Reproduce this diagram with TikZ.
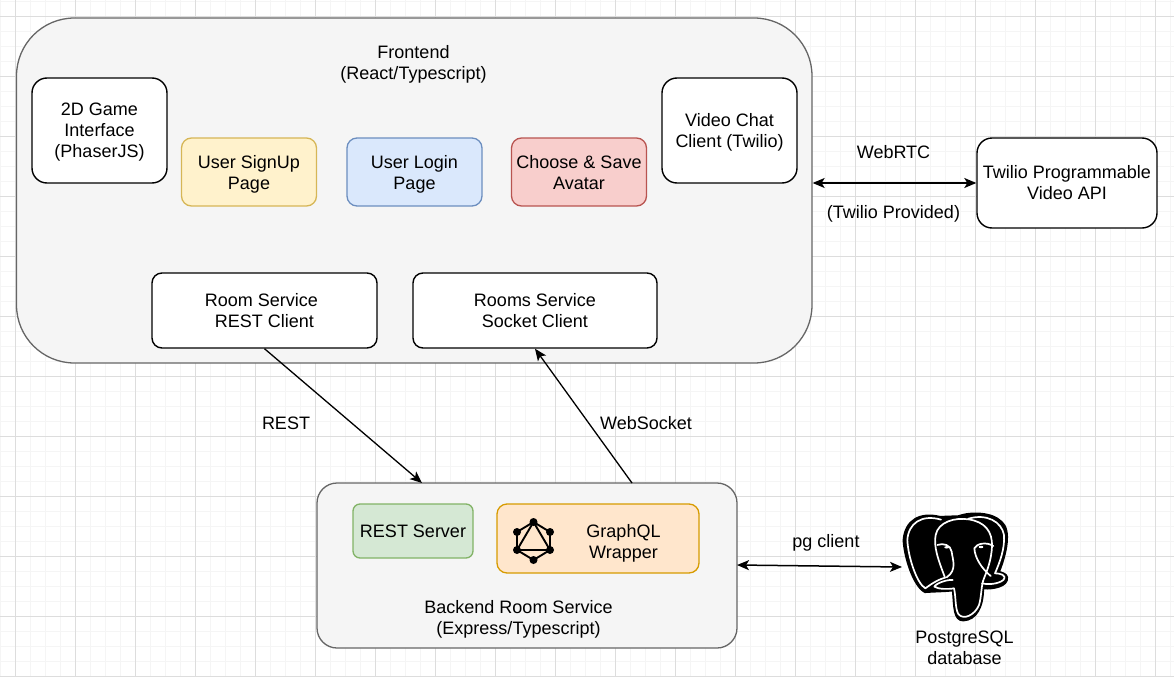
\documentclass[tikz,border=0pt]{standalone}
\usepackage{fontspec}
\setmainfont{Liberation Sans}
\usetikzlibrary{arrows.meta,positioning,backgrounds}

\definecolor{greyfill}{HTML}{F5F5F5}
\definecolor{greyline}{HTML}{666666}
\definecolor{yellowfill}{HTML}{FFF2CC}
\definecolor{yellowline}{HTML}{D6B656}
\definecolor{bluefill}{HTML}{DAE8FC}
\definecolor{blueline}{HTML}{6C8EBF}
\definecolor{redfill}{HTML}{F8CECC}
\definecolor{redline}{HTML}{B85450}
\definecolor{greenfill}{HTML}{D5E8D4}
\definecolor{greenline}{HTML}{82B366}
\definecolor{orangefill}{HTML}{FFE6CC}
\definecolor{orangeline}{HTML}{D79B00}
\definecolor{gridmajor}{HTML}{DDDDDD}
\definecolor{gridminor}{HTML}{F5F5F5}

\begin{document}
\begin{tikzpicture}[
    x=1pt, y=-1pt,
    >={Stealth[length=12pt,width=10pt,inset=3pt]},
    every node/.style={font=\fontsize{18}{21}\selectfont, align=center, inner sep=0pt},
    container/.style={
        rectangle,
        draw=greyline,
        fill=greyfill,
        line width=1.3pt
    },
    plainbox/.style={
        rectangle,
        rounded corners=15pt,
        draw=black,
        fill=white,
        line width=1.4pt
    },
    tinted/.style={
        rectangle,
        rounded corners=10pt,
        draw=#1line,
        fill=#1fill,
        line width=1.3pt,
        minimum width=135pt,
        minimum height=68pt
    },
    lowtext/.style={execute at begin node={\rule{0pt}{#1}}},
    link/.style={<->, line width=1.5pt},
    oneway/.style={->, line width=1.3pt}
]

% Canvas and grid
\useasboundingbox (0,0) rectangle (1174,677);
\fill[white] (0,0) rectangle (1174,677);
\foreach \gx in {0,15,...,1170} \draw[gridminor, line width=1pt] (\gx+0.5,0) -- (\gx+0.5,677);
\foreach \gy in {1,16,...,676} \draw[gridminor, line width=1pt] (0,\gy+0.5) -- (1174,\gy+0.5);
\foreach \gx in {15,75,...,1155} \draw[gridmajor, line width=1pt] (\gx+0.5,0) -- (\gx+0.5,677);
\foreach \gy in {16,76,...,676} \draw[gridmajor, line width=1pt] (0,\gy+0.5) -- (1174,\gy+0.5);

% Frontend
\node[container, rounded corners=58pt, minimum width=795.5pt, minimum height=345pt] (frontend) at (414.25,190.5) {};
\node (frontendlabel) at (413.5,64) {Frontend\\(React/Typescript)};
\node[plainbox, lowtext=57pt, minimum width=135pt, minimum height=105pt] (game) at (99.5,130.5) {2D Game\\Interface\\(PhaserJS)};
\node[tinted=yellow, lowtext=38pt] (signup) at (249,172) {User SignUp\\Page};
\node[tinted=blue, lowtext=38pt] (login) at (414.5,172) {User Login\\Page};
\node[tinted=red, lowtext=36pt] (avatar) at (579,172) {Choose \& Save\\Avatar};
\node[plainbox, lowtext=38pt, minimum width=135pt, minimum height=105pt] (video) at (729.5,130.5) {Video Chat\\Client (Twilio)};
\node[plainbox, rounded corners=10pt, minimum width=225pt, minimum height=75pt] (restclient) at (264.5,310.5) {Room Service\kern6pt\\REST Client};
\node[plainbox, rounded corners=10pt, minimum width=244pt, minimum height=75pt] (socketclient) at (535,310.5) {Rooms Service\\Socket Client};

% Twilio
\node[plainbox, minimum width=180pt, minimum height=90pt] (twilio) at (1067,183) {Twilio Programmable\\Video API};
\draw[link] (frontend.east |- twilio.west) -- (twilio.west);
\node (webrtc) at (893.5,152) {WebRTC};
\node (provided) at (893.5,213.5) {(Twilio Provided)};

% Backend
\node[container, rounded corners=20pt, minimum width=420pt, minimum height=165pt] (backend) at (527,565.5) {};
\node[tinted=green, rounded corners=7pt, minimum width=120pt, minimum height=54pt] (restserver) at (413,531) {REST Server};
\node[tinted=orange, minimum width=202pt, minimum height=69pt] (graphql) at (598,538.5) {};
\node (graphqllabel) at (623.5,543) {GraphQL\\Wrapper};
\node (backendlabel) at (518.5,619) {Backend Room Service\\(Express/Typescript)};

% GraphQL icon
\begin{scope}[line width=1.9pt, black]
    \coordinate (qltop) at (533.5,522);
    \coordinate (qlbot) at (533.5,560);
    \coordinate (qlul) at (517,532);
    \coordinate (qlur) at (550,532);
    \coordinate (qlll) at (517,550);
    \coordinate (qllr) at (550,550);
    \draw (qltop) -- (qlur) -- (qllr) -- (qlbot) -- (qlll) -- (qlul) -- cycle;
    \draw (qltop) -- (qlll) -- (qllr) -- cycle;
    \foreach \qlpt in {qltop,qlbot,qlul,qlur,qlll,qllr} \fill (\qlpt) circle (4pt);
\end{scope}

% PostgreSQL elephant
\coordinate (pgin) at (902,567);
\begin{scope}[shift={(880,490)}, x=0.3333pt, y=-0.3333pt]
    \fill[black, draw=black, line width=1.5pt, line join=round] (180,80) .. controls (120,65) and (75,90) .. (70,150)
        .. controls (72,200) and (100,290) .. (135,307) .. controls (160,305) and (190,305) .. (218,302)
        .. controls (222,350) and (220,392) .. (250,392) .. controls (290,390) and (310,350) .. (310,296)
        .. controls (340,298) and (385,290) .. (382,262) .. controls (380,250) and (365,248) .. (358,245)
        .. controls (380,190) and (395,120) .. (365,95) .. controls (335,65) and (270,65) .. (235,78) -- cycle;
    \begin{scope}[white, line width=1.7pt, line cap=round, line join=round]
        \draw (183,89) .. controls (125,72) and (85,100) .. (82,150) .. controls (84,200) and (110,280) .. (136,295)
            .. controls (150,285) and (170,270) .. (195,263);
        \draw (195,263) .. controls (175,210) and (160,170) .. (167,135) .. controls (175,95) and (225,82) .. (265,88)
            .. controls (315,95) and (338,125) .. (336,170) .. controls (334,210) and (322,240) .. (312,265)
            .. controls (303,285) and (305,320) .. (297,345) .. controls (285,375) and (250,392) .. (235,372)
            .. controls (225,355) and (228,320) .. (222,295);
        \draw (265,86) .. controls (320,70) and (365,95) .. (372,135) .. controls (375,175) and (360,215) .. (345,250)
            .. controls (360,250) and (382,255) .. (370,270) .. controls (355,282) and (325,285) .. (306,280);
        \draw (222,295) .. controls (205,298) and (175,298) .. (163,290) .. controls (170,278) and (205,268) .. (218,270);
        \draw (172,165) .. controls (190,158) and (212,165) .. (215,185) .. controls (218,210) and (232,240) .. (200,262);
        \draw (340,168) .. controls (320,155) and (290,160) .. (283,175) .. controls (285,205) and (305,235) .. (332,258);
    \end{scope}
    \fill[white] (200,172) ellipse (2.4pt and 1.2pt);
    \fill[white] (303,171) ellipse (2.4pt and 1.2pt);
\end{scope}
\node (pglabel) at (964.5,648) {PostgreSQL\\database};

% Connections
\coordinate (restend) at (422,483);
\coordinate (socketstart) at (632,483);
\coordinate (backendeast) at (737,565);
\draw[oneway] (restclient.south) -- (restend);
\draw[oneway] (socketstart) -- (socketclient.south);
\draw[link] (backendeast) -- (pgin);

\node (restlabel) at (286,423) {REST};
\node (socketlabel) at (646,423) {WebSocket};
\node (pgclient) at (826,543) {pg client};

\end{tikzpicture}
\end{document}
